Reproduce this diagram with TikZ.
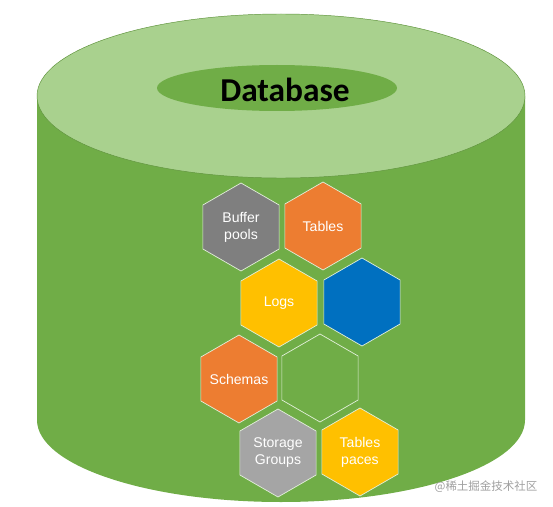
\documentclass[tikz,border=0pt]{standalone}
\usepackage{fontspec}
\setmainfont{Liberation Sans}
\newfontfamily\dbfont{Carlito}
\newfontfamily\cjkfont{Noto Sans CJK SC}
\usetikzlibrary{shapes.geometric}

\definecolor{bodygreen}{HTML}{70AD47}
\definecolor{topgreen}{HTML}{A9D18E}
\definecolor{hexgray}{HTML}{7F7F7F}
\definecolor{hexsilver}{HTML}{A5A5A5}
\definecolor{hexorange}{HTML}{ED7D31}
\definecolor{hexyellow}{HTML}{FFC000}
\definecolor{hexblue}{HTML}{0070C0}

\tikzset{
  hex/.style={regular polygon, regular polygon sides=6, regular polygon rotate=30,
    minimum size=2.64cm, inner sep=-8pt, draw=white!80!bodygreen, line width=0.6pt,
    text=white, align=center, font=\fontsize{12}{14.5}\selectfont}
}

\begin{document}
\begin{tikzpicture}[x=0.03cm,y=-0.03cm]

\useasboundingbox (0,0) rectangle (553,507);

% cylinder
\begin{scope}
\coordinate (top) at (281,96);
\coordinate (bot) at (281,420);
\fill[bodygreen] (37,96) -- (37,420) arc[start angle=180, end angle=0, x radius=244, y radius=82] -- (525,96) -- cycle;
\filldraw[fill=topgreen, draw=bodygreen!85!black, line width=0.4pt] (top) ellipse[x radius=244, y radius=82];
\fill[bodygreen] (277,88) ellipse[x radius=120, y radius=23];
\node[font=\dbfont\bfseries\fontsize{28.5}{30}\selectfont, text=black] (db) at (285,90) {Database};
\end{scope}

% hexagons
\node[hex, fill=hexgray] (bp) at (241,227) {Buffer\\pools};
\node[hex, fill=hexorange] (tb) at (323,226) {Tables};
\node[hex, fill=hexyellow] (lg) at (279,303) {Logs};
\node[hex, fill=hexblue] (bl) at (362,302) {};
\node[hex, fill=hexorange] (sc) at (239,379) {Schemas};
\node[hex, fill=bodygreen] (em) at (320,378) {};
\node[hex, fill=hexsilver] (sg) at (278,453) {Storage\\Groups};
\node[hex, fill=hexyellow] (ts) at (360,452) {Tables\\paces};

\node[text=gray!75, font=\cjkfont\fontsize{9.8}{10}\selectfont] (wm) at (486,487) {@稀土掘金技术社区};

\end{tikzpicture}
\end{document}
